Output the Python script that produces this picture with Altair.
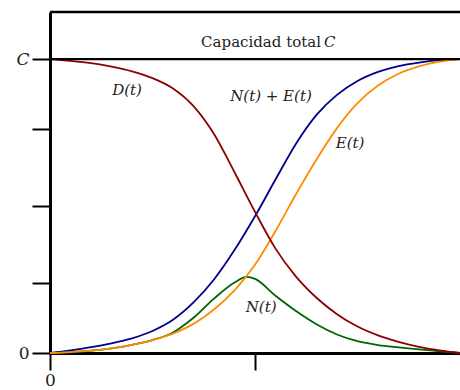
import altair as alt
import pandas as pd

# Time grid (arbitrary units) and the curves as fractions of the total capacity C
T = [0, 0.5, 1, 1.5, 2, 2.5, 3, 3.5, 4, 4.5, 5, 5.5, 6, 6.5, 7, 7.5, 8, 8.5, 9, 9.5, 10]
D = [1.0, 0.994, 0.986, 0.974, 0.958, 0.935, 0.900, 0.840, 0.745, 0.615, 0.480,
     0.355, 0.260, 0.188, 0.132, 0.090, 0.060, 0.038, 0.021, 0.009, 0.0]
NE = [0.0, 0.009, 0.020, 0.033, 0.050, 0.075, 0.113, 0.172, 0.250, 0.350, 0.465,
      0.590, 0.712, 0.810, 0.878, 0.925, 0.956, 0.976, 0.988, 0.996, 1.0]
E = [0.0, 0.003, 0.008, 0.016, 0.028, 0.044, 0.066, 0.099, 0.148, 0.213, 0.300,
     0.415, 0.540, 0.658, 0.765, 0.850, 0.910, 0.950, 0.975, 0.991, 1.0]
T_N = [0, 0.5, 1, 1.5, 2, 2.5, 3, 3.5, 4, 4.5, 4.8, 5, 5.5, 6, 6.5, 7, 7.5, 8, 8.5, 9, 9.5, 10]
N = [0.0, 0.003, 0.008, 0.016, 0.028, 0.044, 0.070, 0.120, 0.185, 0.240, 0.259, 0.252,
     0.195, 0.143, 0.098, 0.063, 0.040, 0.027, 0.019, 0.012, 0.006, 0.0]

Y_TICKS = [0, 0.238, 0.5, 0.761, 1.0]
X_TICKS = [0, 5]
CAPACITY = [1.0]
Y_MAX = 1.16
X_MAX = 10

LABEL_T = [1.88, 5.39, 7.32, 5.15]
LABEL_V = [0.895, 0.874, 0.714, 0.156]
LABEL_TEXT = ["D(t)", "N(t) + E(t)", "E(t)", "N(t)"]

SERIF = "DejaVu Serif"
INK = "#222222"

x_scale = alt.Scale(domain=[0, X_MAX], nice=False, zero=False)
y_scale = alt.Scale(domain=[0, Y_MAX], nice=False, zero=False)

x_axis = alt.Axis(values=X_TICKS, labelExpr="datum.value == 0 ? '0' : ''",
                  title=None, grid=False, domainColor="black", domainWidth=3,
                  tickColor="black", tickWidth=2, tickSize=17, labelPadding=2,
                  labelFlush=False,
                  labelFont=SERIF, labelFontSize=17, labelColor=INK)
y_axis = alt.Axis(values=Y_TICKS,
                  labelExpr="datum.value == 1 ? 'C' : (datum.value == 0 ? '0' : '')",
                  labelFontStyle=alt.condition("datum.value == 1", alt.value("italic"), alt.value("normal")),
                  title=None, grid=False, domainColor="black", domainWidth=3,
                  tickColor="black", tickWidth=2, tickSize=18, labelPadding=3,
                  labelFont=SERIF, labelFontSize=17, labelColor=INK)

X = alt.X("t:Q", scale=x_scale, axis=x_axis)
Y = alt.Y("v:Q", scale=y_scale, axis=y_axis)


def curve(ts, vs, color):
    df = pd.DataFrame({"t": ts, "v": vs})
    return alt.Chart(df).mark_line(color=color, strokeWidth=1.8,
                                   interpolate="monotone").encode(x=X, y=Y)


blue = curve(T, NE, "#00008b")
green = curve(T_N, N, "#006400")
orange = curve(T, E, "#ff8c00")
red = curve(T, D, "#8b0000")

# Capacity line and upper frame
cap_rule = alt.Chart(pd.DataFrame({"v": CAPACITY})).mark_rule(
    color="black", strokeWidth=2.2).encode(y=Y)
top_rule = alt.Chart(pd.DataFrame({"v": [Y_MAX]})).mark_rule(
    color="black", strokeWidth=2.6).encode(y=Y)

labels_df = pd.DataFrame({"t": LABEL_T, "v": LABEL_V, "text": LABEL_TEXT})
labels = alt.Chart(labels_df).mark_text(
    font=SERIF, fontSize=15, fontStyle="italic", color=INK, baseline="middle"
).encode(x=X, y=Y, text="text:N")

cap_word = alt.Chart(pd.DataFrame({"t": [6.61], "v": [1.058], "text": ["Capacidad total"]})).mark_text(
    font=SERIF, fontSize=15, color=INK, align="right", baseline="middle"
).encode(x=X, y=Y, text="text:N")
cap_sym = alt.Chart(pd.DataFrame({"t": [6.68], "v": [1.058], "text": ["C"]})).mark_text(
    font=SERIF, fontSize=15, fontStyle="italic", color=INK, align="left", baseline="middle"
).encode(x=X, y=Y, text="text:N")

chart = alt.layer(
    blue, green, orange, red, cap_rule, top_rule, labels, cap_word, cap_sym
).properties(
    width=410, height=341,
    autosize=alt.AutoSizeParams(type="none"),
    padding={"left": 50, "top": 12, "right": 0, "bottom": 37},
    background="white",
).configure_view(stroke=None)

chart.save("out.html", embed_options={"renderer": "svg", "actions": False})
